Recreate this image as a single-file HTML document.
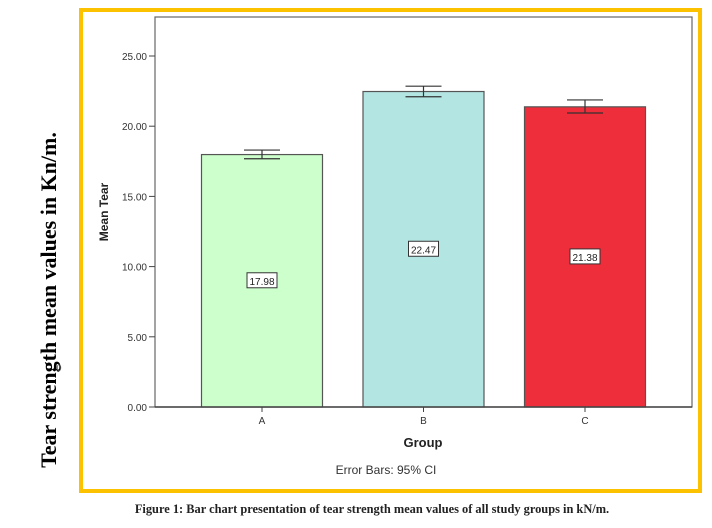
<!DOCTYPE html>
<html><head><meta charset="utf-8"><style>
body{margin:0;width:712px;height:523px;background:#fff;overflow:hidden;font-family:"Liberation Sans",sans-serif}
</style></head><body>
<svg width="712" height="523">
<rect x="81" y="10" width="619" height="481" fill="#fff" stroke="#fcc200" stroke-width="4"/>
<rect x="155" y="17" width="537" height="390" fill="#fff" stroke="#666" stroke-width="1.2"/>
<g id="chart"></g>
<text x="108" y="212" transform="rotate(-90 108 212)" text-anchor="middle" font-size="12" font-weight="bold" fill="#222">Mean Tear</text>
<text x="423" y="447" text-anchor="middle" font-size="13" font-weight="bold" fill="#222">Group</text>
<text x="386" y="474" text-anchor="middle" font-size="12" fill="#333">Error Bars: 95% CI</text>
<text x="56" y="300" transform="rotate(-90 56 300)" text-anchor="middle" font-family="Liberation Serif,serif" font-size="22" font-weight="bold" fill="#000">Tear strength mean values in Kn/m.</text>
<text x="59" y="371" text-anchor="middle" font-size="9" fill="#555">0</text>
<text x="372" y="513" text-anchor="middle" font-family="Liberation Serif,serif" font-size="12.4" font-weight="bold" fill="#222">Figure 1: Bar chart presentation of tear strength mean values of all study groups in kN/m.</text>
</svg>
<script>
const categories=["A","B","C"];
const means=[17.98,22.47,21.38];
const ciLow=[17.68,22.1,20.94];
const ciHigh=[18.3,22.85,21.87];
const yTicks=[0,5,10,15,20,25];
const colors=["#ccffcc","#b3e5e3","#ee2e3a"];
const NS="http://www.w3.org/2000/svg";
const g=document.getElementById("chart");
const y0=407,pxPerUnit=14.04;
function y(v){return y0-v*pxPerUnit;}
function xc(i){return 262+i*161.5;}
const bw=121;
function el(t,a){const e=document.createElementNS(NS,t);for(const k in a)e.setAttribute(k,a[k]);g.appendChild(e);return e;}
yTicks.forEach(v=>{
 const l=el("line",{x1:149,x2:155,y1:y(v),y2:y(v),stroke:"#444"});
 
 
 const t=el("text",{x:147,y:y(v)+4,"text-anchor":"end","font-size":"10",fill:"#333"});
 t.textContent=v.toFixed(2);
 
 
});
categories.forEach((c,i)=>{
 const r=el("rect",{x:xc(i)-bw/2,y:y(means[i]),width:bw,height:y0-y(means[i]),fill:colors[i],stroke:"#555","stroke-width":1.2});
 
 
 const e1=el("line",{x1:xc(i),x2:xc(i),y1:y(ciHigh[i]),y2:y(ciLow[i]),stroke:"#333","stroke-width":1.2});
 
 
 [ciHigh[i],ciLow[i]].forEach(v=>{const cap=el("line",{x1:xc(i)-18,x2:xc(i)+18,y1:y(v),y2:y(v),stroke:"#333","stroke-width":1.2});
 
 });
 const ly=y(means[i]/2);
 const b=el("rect",{x:xc(i)-15,y:ly-8,width:30,height:15,fill:"#fff",stroke:"#333"});
 
 
 const t=el("text",{x:xc(i),y:ly+4,"text-anchor":"middle","font-size":"10",fill:"#222"});
 t.textContent=means[i].toFixed(2);
 
 
 const tk=el("line",{x1:xc(i),x2:xc(i),y1:y0,y2:y0+5,stroke:"#444"});
 
 
 const xt=el("text",{x:xc(i),y:y0+17,"text-anchor":"middle","font-size":"10",fill:"#333"});
 xt.textContent=c;
 
 
});
const ax=el("line",{x1:155,x2:692,y1:y0,y2:y0,stroke:"#444","stroke-width":1.4});


</script>
</body></html>
